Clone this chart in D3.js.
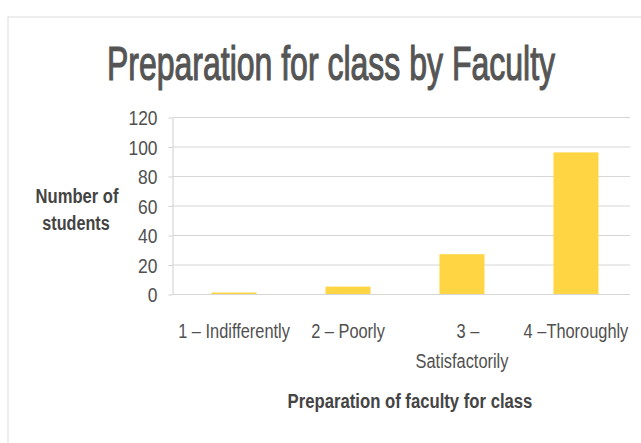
<!DOCTYPE html>
<html>
<head>
<meta charset="utf-8">
<script src="https://cdn.jsdelivr.net/npm/d3@7"></script>
<style>
  body { margin: 0; background: #fff; }
  text { font-family: "Liberation Sans", Arial, sans-serif; }
</style>
</head>
<body>
<script>
let categories = ['1 – Indifferently', '2 – Poorly', '3 – Satisfactorily', '4 –Thoroughly']
let labelLines = [['1 – Indifferently'], ['2 – Poorly'], ['3 –', 'Satisfactorily'], ['4 –Thoroughly']]
let values = [1, 5, 27, 96]
let yTicks = [0, 20, 40, 60, 80, 100, 120]

let width = 641
let height = 443
let margin = { top: 117, right: 4, bottom: 149, left: 173 }

let svg = d3.select('body')
  .append('svg')
  .attr('width', width)
  .attr('height', height)

// draws one line of narrow text (the source font is a condensed one)
function narrowText(parent, str, x, y, size, k, opts) {
  opts = opts || {}
  let g = parent.append('g')
    .attr('transform', 'translate(' + x + ',' + y + ') scale(' + k + ',1)')
  let t = g.append('text')
    .attr('text-anchor', opts.anchor || 'middle')
    .attr('dy', opts.dy || 0)
    .attr('font-size', size + 'px')
    .attr('font-weight', opts.weight || 'normal')
    .attr('fill', opts.fill || '#4d4d4d')
    .text(str)
  if (opts.stroke) {
    t.attr('stroke', opts.fill || '#4d4d4d').attr('stroke-width', opts.stroke)
  }
  return t
}

// chart frame (edge of the scanned page)
svg.append('rect')
  .attr('x', 8)
  .attr('y', 17)
  .attr('width', width)
  .attr('height', height)
  .attr('fill', 'none')
  .attr('stroke', '#dcdcdc')

let x = d3.scaleBand()
  .domain(categories)
  .range([margin.left, width - margin.right])
  .paddingInner(0.605)
  .paddingOuter(0.338)

let y = d3.scaleLinear()
  .domain([0, 120])
  .range([height - margin.bottom, margin.top])

// gridlines
svg.append('g')
  .selectAll('line')
  .data(yTicks)
  .enter()
  .append('line')
  .attr('x1', margin.left)
  .attr('x2', 630)
  .attr('y1', d => y(d) + 0.5)
  .attr('y2', d => y(d) + 0.5)
  .attr('stroke', '#d6d6d6')

// y axis
let yAxis = svg.append('g')
  .attr('transform', 'translate(' + (margin.left - 0.5) + ',0.5)')
  .call(d3.axisLeft(y).tickValues(yTicks).tickSize(4).tickPadding(11).tickSizeOuter(0))
yAxis.select('.domain').attr('stroke', '#cfcfcf')
yAxis.selectAll('.tick line').attr('stroke', '#cfcfcf')
yAxis.selectAll('.tick text').remove()
yAxis.selectAll('.tick').each(function (d) {
  narrowText(d3.select(this), d, -15, 0, 21, 0.83, { anchor: 'end', dy: '0.34em', fill: '#505050' })
})

// bars
svg.selectAll('rect.bar')
  .data(values)
  .enter()
  .append('rect')
  .attr('class', 'bar')
  .attr('x', (d, i) => x(categories[i]))
  .attr('y', d => y(d))
  .attr('width', x.bandwidth())
  .attr('height', d => y(0) - y(d))
  .attr('fill', '#ffd544')

// category labels
labelLines.forEach((lines, i) => {
  lines.forEach((line, j) => {
    narrowText(svg, line, x(categories[i]) + x.bandwidth() / 2 + (j === 0 && lines.length > 1 ? 6 : 0),
      338 + j * 30, 21, 0.78, { fill: '#505050' })
  })
})

// title
narrowText(svg, 'Preparation for class by Faculty', 331, 80, 48, 0.667, { fill: '#555', stroke: 1.2 })

// y axis title
narrowText(svg, 'Number of', 77, 203, 20, 0.83, { weight: 'bold', fill: '#444' })
narrowText(svg, 'students', 76, 230, 20, 0.81, { weight: 'bold', fill: '#444' })

// x axis title
narrowText(svg, 'Preparation of faculty for class', 410, 408, 20, 0.835, { weight: 'bold', fill: '#444' })
</script>
</body>
</html>
